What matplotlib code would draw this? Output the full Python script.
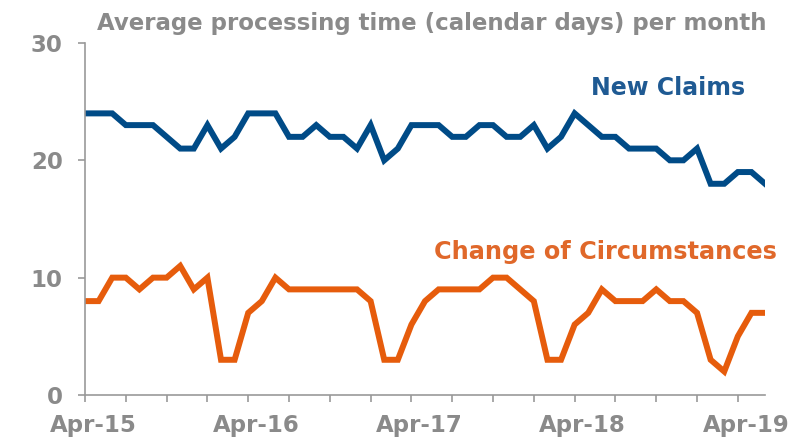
import numpy as np
import matplotlib.pyplot as plt
import matplotlib.transforms as mtransforms

# monthly data, Apr-15 to Jun-19
new_claims = [24, 24, 24, 23, 23, 23, 22, 21, 21, 23, 21, 22,
              24, 24, 24, 22, 22, 23, 22, 22, 21, 23, 20, 21,
              23, 23, 23, 22, 22, 23, 23, 22, 22, 23, 21, 22,
              24, 23, 22, 22, 21, 21, 21, 20, 20, 21, 18, 18,
              19, 19, 18]
change_circ = [8, 8, 10, 10, 9, 10, 10, 11, 9, 10, 3, 3,
               7, 8, 10, 9, 9, 9, 9, 9, 9, 8, 3, 3,
               6, 8, 9, 9, 9, 9, 10, 10, 9, 8, 3, 3,
               6, 7, 9, 8, 8, 8, 9, 8, 8, 7, 3, 2,
               5, 7, 7]
year_labels = ['Apr-15', 'Apr-16', 'Apr-17', 'Apr-18', 'Apr-19']
y_ticks = [0, 10, 20, 30]

plt.rcParams['font.family'] = ['DejaVu Sans']
grey = '#8a8a8a'
blue = '#004b87'
orange = '#e65c0c'

fig = plt.figure(figsize=(7.96, 4.44), dpi=100)
ax = fig.add_axes([0.1068, 0.1104, 0.8543, 0.7928])

months = np.arange(len(new_claims))
ax.plot(months, new_claims, color=blue, lw=4.3, solid_joinstyle='miter')
ax.plot(months, change_circ, color=orange, lw=4.3, solid_joinstyle='miter')

ax.set_xlim(0, len(new_claims) - 1)
ax.set_ylim(0, 30)
ax.set_yticks(y_ticks)
ax.set_xticks(np.arange(0, len(new_claims), 12))
ax.set_xticklabels(year_labels)
ax.set_xticks(np.arange(0, len(new_claims), 3), minor=True)

for side in ['top', 'right']:
    ax.spines[side].set_visible(False)
for side in ['left', 'bottom']:
    ax.spines[side].set_color('#999999')
    ax.spines[side].set_linewidth(1.2)
ax.tick_params(which='both', direction='out', color='#999999', width=1.2, length=5)
ax.tick_params(axis='both', labelsize=16.5, labelcolor=grey)
ax.tick_params(axis='x', pad=9)
ax.tick_params(axis='y', pad=11)
for lab in ax.get_xticklabels() + ax.get_yticklabels():
    lab.set_fontweight('bold')
shift = mtransforms.ScaledTranslation(8 / 100, 0, fig.dpi_scale_trans)
for lab in ax.get_xticklabels():
    lab.set_transform(lab.get_transform() + shift)

fig.text(0.122, 0.948, 'Average processing time (calendar days) per month',
         fontsize=16.5, fontweight='bold', color=grey, va='center', ha='left')
ax.text(0.936, 0.802, 'New Claims', transform=fig.transFigure, fontsize=17,
        fontweight='bold', color='#1f5a93', ha='right', va='center')
ax.text(0.976, 0.432, 'Change of Circumstances', transform=fig.transFigure,
        fontsize=17.3, fontweight='bold', color='#e0682a', ha='right', va='center')

plt.savefig('out.png', dpi=100)
